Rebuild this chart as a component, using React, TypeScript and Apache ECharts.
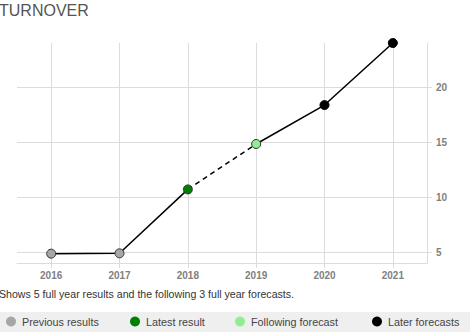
import React, { useEffect, useRef } from "react";
import * as echarts from "echarts";

const years = ["2016", "2017", "2018", "2019", "2020", "2021"];
const turnover = [4.85, 4.88, 10.69, 14.82, 18.36, 24.0];
// 0 = previous, 1 = latest, 2 = following forecast, 3 = later forecasts
const status = [0, 0, 1, 2, 3, 3];
const groupNames = ["Previous results", "Latest result", "Following forecast", "Later forecasts"];
const groupColors = ["#a6a6a6", "#008000", "#90ee90", "#000000"];
const yTickLabels = ["5", "10", "15", "20"];

const FONT = '"Liberation Sans", Arial, sans-serif';

export default function App() {
  const ref = useRef<HTMLDivElement>(null);
  useEffect(() => {
    document.body.style.margin = "0";
    const chart = echarts.init(ref.current!, undefined, { renderer: "svg" });
    const latest = status.indexOf(1);
    const following = status.indexOf(2);
    const seg1 = turnover.map((v, i) => (i <= latest ? v : null));
    const segDash = turnover.map((v, i) => (i >= latest && i <= following ? v : null));
    const seg2 = turnover.map((v, i) => (i >= following ? v : null));

    const lineBase = {
      type: "line" as const,
      symbol: "none",
      silent: true,
      z: 2,
      connectNulls: false,
    };

    const scatters = groupNames.map((name, g) => ({
      type: "scatter" as const,
      name,
      z: 5,
      symbolSize: 9,
      itemStyle: {
        color: groupColors[g],
        borderColor: g === 3 ? "#000" : "#333",
        borderWidth: 1,
        opacity: 1,
      },
      data: turnover.map((v, i) => (status[i] === g ? [years[i], v] : null)).filter((d) => d !== null),
    }));

    const legendX = [11, 135, 240, 377];
    const legendY = 321.5;
    const legendGraphics: any[] = [
      {
        type: "rect",
        shape: { x: 0, y: 312, width: 470, height: 20 },
        style: { fill: "#efefef" },
        silent: true,
      },
    ];
    groupNames.forEach((name, g) => {
      legendGraphics.push({
        type: "circle",
        shape: { cx: legendX[g], cy: legendY, r: 5 },
        style: { fill: groupColors[g] },
      });
      legendGraphics.push({
        type: "text",
        x: legendX[g] + 11,
        y: legendY,
        style: {
          text: name,
          fill: "#444",
          font: `10.8px ${FONT}`,
          textVerticalAlign: "middle",
          verticalAlign: "middle",
        },
      });
    });

    chart.setOption({
      animation: false,
      backgroundColor: "#fff",
      title: [
        {
          text: "TURNOVER",
          left: -1,
          top: 2,
          textStyle: { fontFamily: FONT, fontSize: 16, fontWeight: "normal", color: "#555" },
          padding: 0,
        },
        {
          text: "Shows 5 full year results and the following 3 full year forecasts.",
          left: -1,
          top: 288,
          textStyle: { fontFamily: FONT, fontSize: 10.6, fontWeight: "normal", color: "#333" },
          padding: 0,
        },
      ],
      grid: { left: 17, right: 43, top: 43, bottom: 71 },
      xAxis: {
        type: "category",
        data: years,
        boundaryGap: true,
        axisLine: { show: true, lineStyle: { color: "#dcdcdc" } },
        axisTick: { show: true, alignWithLabel: true, length: 5, lineStyle: { color: "#dcdcdc" } },
        splitLine: { show: true, alignWithLabel: true, lineStyle: { color: "#dcdcdc" } },
        axisLabel: {
          margin: 7,
          fontFamily: FONT,
          fontSize: 10,
          fontWeight: "bold",
          color: "#808080",
        },
      },
      yAxis: {
        type: "value",
        position: "right",
        min: 4,
        max: 24,
        splitNumber: 4,
        axisLine: { show: true, lineStyle: { color: "#dcdcdc" } },
        axisTick: { show: true, length: 5, lineStyle: { color: "#dcdcdc" } },
        splitLine: { show: true, showMaxLine: false, showMinLine: false, lineStyle: { color: "#dcdcdc" } },
        axisLabel: {
          margin: 9,
          fontFamily: FONT,
          fontSize: 10,
          fontWeight: "bold",
          color: "#808080",
          showMinLabel: false,
          showMaxLabel: false,
          formatter: (v: number) => (yTickLabels.includes(String(v)) ? String(v) : ""),
        },
      },
      series: [
        { ...lineBase, data: seg1, lineStyle: { color: "#000", width: 1.5 } },
        { ...lineBase, data: segDash, lineStyle: { color: "#000", width: 1.5, type: [5, 4] } },
        { ...lineBase, data: seg2, lineStyle: { color: "#000", width: 1.5 } },
        ...scatters,
      ],
      graphic: legendGraphics,
    });
    return () => chart.dispose();
  }, []);
  return (
    <div
      ref={ref}
      style={{ position: "fixed", left: 0, top: 0, width: 470, height: 334 }}
    />
  );
}
